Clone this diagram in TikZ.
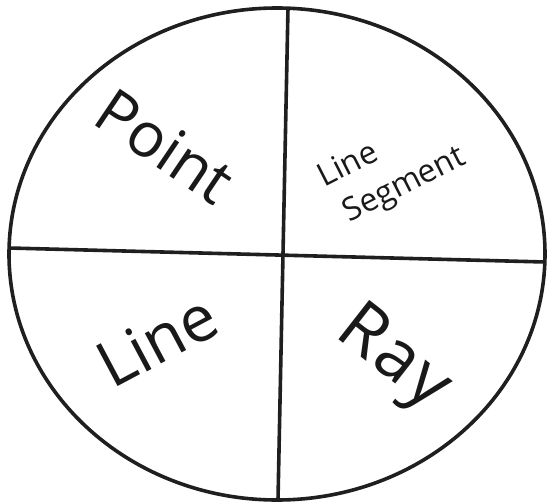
\documentclass[tikz,border=0pt]{standalone}
\usepackage{fontspec}
\setmainfont{Open Sans}
\usetikzlibrary{shapes.geometric}
\begin{document}
\begin{tikzpicture}[x=1pt,y=-1pt,
  edge/.style={line width=3.6pt,draw=black!88},
  lbl/.style={inner sep=0pt,font=\fontsize{#1}{#1}\selectfont,text=black!90}]
\useasboundingbox (0,0) rectangle (550,503);
\node[draw=black!88,line width=3.6pt,ellipse,minimum width=536,minimum height=492,inner sep=0pt] (c) at (277,254) {};
\coordinate (top) at (288,8);
\coordinate (bot) at (278,500);
\coordinate (lft) at (9,248);
\coordinate (rgt) at (545,262);
\draw[edge] (top) -- (bot);
\draw[edge] (lft) -- (rgt);
\node[lbl=62,rotate=-34] (point) at (165,146) {Point};
\node[lbl=32,rotate=27] (line1) at (347,163) {Line};
\node[lbl=32,rotate=27] (seg) at (405,186) {Segment};
\node[lbl=64,rotate=28] (line2) at (157,340) {Line};
\node[lbl=70,rotate=-38] (ray) at (392,360) {\addfontfeature{LetterSpace=4}Ray};
\end{tikzpicture}
\end{document}
